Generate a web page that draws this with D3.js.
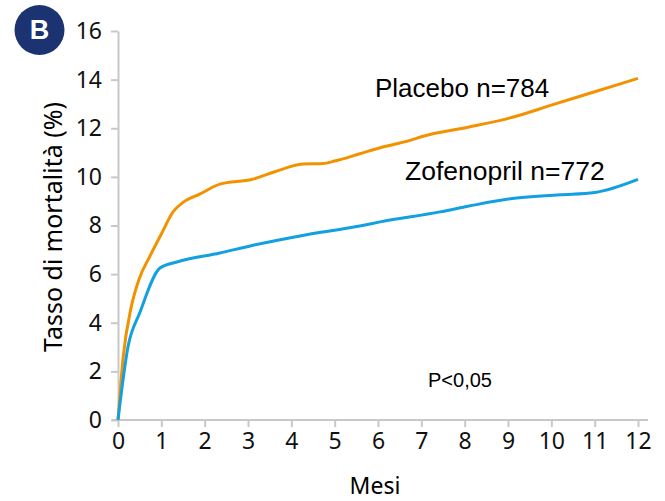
<!DOCTYPE html>
<html>
<head>
<meta charset="utf-8">
<script src="https://cdn.jsdelivr.net/npm/d3@7"></script>
<style>
  body { margin: 0; background: #fff; }
  svg { display: block; }
  .tick text { font-family: "Noto Sans", sans-serif; fill: #111; }
  .tick line, .domain { stroke: #c8c8c8; stroke-width: 2; }
</style>
</head>
<body>
<script>
// months on the x axis and the mortality values
var monthTicks = [0, 1, 2, 3, 4, 5, 6, 7, 8, 9, 10, 11, 12];
var rateTicks = [0, 2, 4, 6, 8, 10, 12, 14, 16];

var placeboMonths = [0, 0.12, 0.3, 0.48, 0.74, 1.0, 1.27, 1.5, 1.9, 2.35, 3.1, 3.6, 4.27, 4.73, 5.0, 5.58, 6.05, 6.74, 7.0, 8.1, 9.1, 10.0, 11.0, 12.0];
var placeboRate = [0, 2.6, 4.6, 5.76, 6.75, 7.65, 8.56, 8.95, 9.3, 9.7, 9.9, 10.2, 10.53, 10.55, 10.65, 10.95, 11.2, 11.5, 11.65, 12.05, 12.45, 12.95, 13.5, 14.05];

var zofMonths = [0, 0.23, 0.5, 0.97, 1.36, 2.35, 3.05, 4.2, 5.58, 6.05, 7.43, 8.1, 9.05, 10.2, 11.0, 12.0];
var zofRate = [0, 3.0, 4.4, 6.25, 6.5, 6.87, 7.16, 7.57, 7.98, 8.15, 8.56, 8.8, 9.1, 9.26, 9.36, 9.9];

var width = 665, height = 501;

var svg = d3.select("body").append("svg")
    .attr("width", width)
    .attr("height", height);

var x = d3.scaleLinear().domain([0, 12]).range([118, 638]);
var y = d3.scaleLinear().domain([0, 16]).range([420, 31]);

//x axis
var xAxis = svg.append("g")
    .attr("transform", "translate(0," + y(0) + ")")
    .call(d3.axisBottom(x).tickValues(monthTicks).tickSize(7).tickPadding(6).tickSizeOuter(0));
xAxis.select(".domain").attr("d", "M112,0H648");
xAxis.selectAll(".tick text").style("font-size", "23px");

//y axis
var yAxis = svg.append("g")
    .attr("transform", "translate(" + x(0) + ",0)")
    .call(d3.axisLeft(y).tickValues(rateTicks).tickSize(7).tickPadding(9).tickSizeOuter(0));
yAxis.selectAll(".tick text").style("font-size", "23px");

var line = d3.line()
    .x(function(d){ return x(d[0]); })
    .y(function(d){ return y(d[1]); })
    .curve(d3.curveMonotoneX);

var placebo = d3.zip(placeboMonths, placeboRate),
    zof = d3.zip(zofMonths, zofRate);

svg.append("path")
    .datum(placebo)
    .attr("d", line)
    .attr("fill", "none")
    .attr("stroke", "#f39200")
    .attr("stroke-width", 3);

svg.append("path")
    .datum(zof)
    .attr("d", line)
    .attr("fill", "none")
    .attr("stroke", "#12a0e0")
    .attr("stroke-width", 3);

//series labels
svg.append("text")
    .attr("x", 375).attr("y", 97)
    .style("font-family", "Liberation Sans, Arial, sans-serif")
    .style("font-size", "26px")
    .text("Placebo n=784");

svg.append("text")
    .attr("x", 405).attr("y", 180)
    .style("font-family", "Liberation Sans, Arial, sans-serif")
    .style("font-size", "26.5px")
    .text("Zofenopril n=772");

svg.append("text")
    .attr("x", 428).attr("y", 387)
    .style("font-family", "Liberation Sans, Arial, sans-serif")
    .style("font-size", "20px")
    .text("P<0,05");

//axis titles
svg.append("text")
    .attr("x", 375).attr("y", 494)
    .attr("text-anchor", "middle")
    .style("font-family", "Noto Sans, sans-serif")
    .style("font-size", "23px")
    .text("Mesi");

svg.append("text")
    .attr("transform", "translate(62,227) rotate(-90)")
    .attr("text-anchor", "middle")
    .style("font-family", "Noto Sans, sans-serif")
    .style("font-size", "25px")
    .text("Tasso di mortalità (%)");

//panel badge
svg.append("circle")
    .attr("cx", 39.5).attr("cy", 30).attr("r", 25)
    .attr("fill", "#1b3370");
svg.append("text")
    .attr("x", 39.5).attr("y", 39)
    .attr("text-anchor", "middle")
    .style("font-family", "Liberation Sans, Arial, sans-serif")
    .style("font-weight", "bold")
    .style("font-size", "27px")
    .attr("fill", "#fff")
    .text("B");
</script>
</body>
</html>
